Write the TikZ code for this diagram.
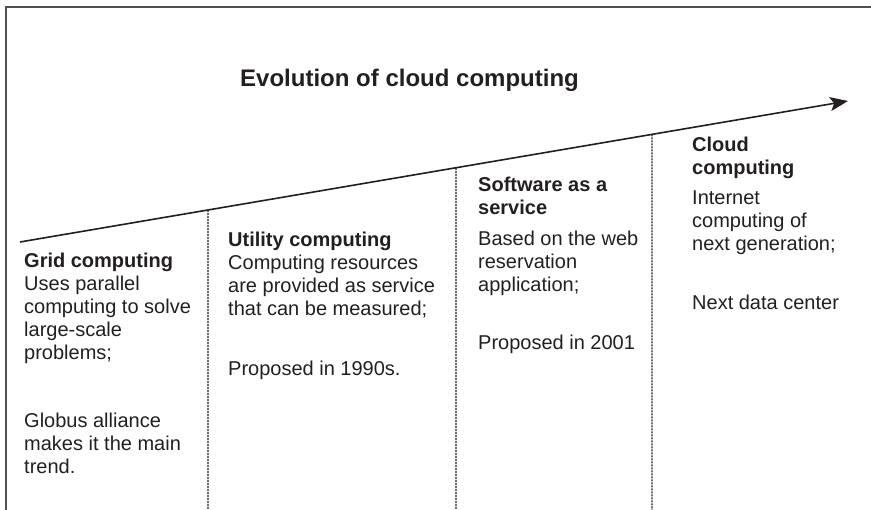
\documentclass[tikz,border=0pt]{standalone}
\usepackage{fontspec}
\setmainfont{Liberation Sans}
\usetikzlibrary{arrows.meta,calc}
\definecolor{ink}{RGB}{35,31,32}
\definecolor{frame}{RGB}{80,80,80}
\newcommand\stk[1]{\begin{tabular}[t]{@{}l@{}}#1\end{tabular}}
\tikzset{
  txt/.style={anchor=base west,inner sep=0pt,text=ink,font=\fontsize{20}{23}\selectfont},
  head/.style={txt,font=\fontsize{20}{23}\selectfont\bfseries},
  divider/.style={draw=ink,line width=1.3pt,dash pattern=on 2pt off 1pt},
  timeline/.style={draw=ink,line width=1.6pt,-{Stealth[length=18pt,width=14pt,inset=4pt]}}
}
\begin{document}
\begin{tikzpicture}[x=1pt,y=-1pt]
\useasboundingbox (0,0) rectangle (871,510);
% frame (extends past right and bottom)
\draw[frame,line width=1.5pt] (6,515) -- (6,7) -- (876,7);
% title
\node[anchor=base,inner sep=0pt,text=ink,font=\fontsize{24}{28}\selectfont\bfseries] (title) at (409.5,87) {Evolution of cloud computing};
% timeline arrow
\coordinate (s) at (20,242);
\coordinate (e) at (848,101);
\draw[timeline] (s) -- (e);
% dividers
\coordinate (d1) at ($(s)!{(208-20)/828}!(e)$);
\coordinate (d2) at ($(s)!{(456-20)/828}!(e)$);
\coordinate (d3) at ($(s)!{(652-20)/828}!(e)$);
\coordinate (b1) at (208,512);
\coordinate (b2) at (456,512);
\coordinate (b3) at (652,512);
\draw[divider] (d1) -- (b1);
\draw[divider] (d2) -- (b2);
\draw[divider] (d3) -- (b3);
% column 1
\node[head] (h1) at (24,268) {Grid computing};
\node[txt] (t1a) at (24,291) {\stk{Uses parallel\\computing to solve\\large-scale\\problems;}};
\node[txt] (t1b) at (24,428) {\stk{Globus alliance\\makes it the main\\trend.}};
% column 2
\node[head] (h2) at (228,247) {Utility computing};
\node[txt] (t2a) at (228,270) {\stk{Computing resources\\are provided as service\\that can be measured;}};
\node[txt] (t2b) at (228,376) {Proposed in 1990s.};
% column 3
\node[head] (h3) at (478,192) {\stk{Software as a\\service}};
\node[txt] (t3a) at (478,246) {\stk{Based on the web\\reservation\\application;}};
\node[txt] (t3b) at (478,350) {Proposed in 2001};
% column 4
\node[head] (h4) at (692,152) {\stk{Cloud\\computing}};
\node[txt] (t4a) at (692,205) {\stk{Internet\\computing of\\next generation;}};
\node[txt] (t4b) at (692,310) {Next data center};
\end{tikzpicture}
\end{document}
